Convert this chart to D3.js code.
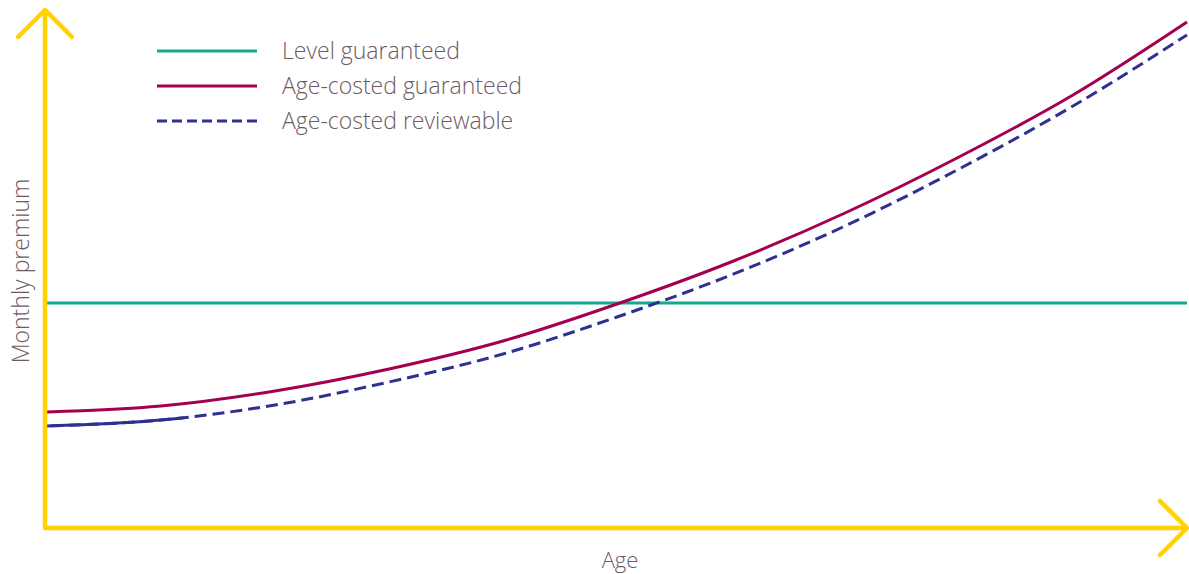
<!DOCTYPE html>
<meta charset="utf-8">
<script src="https://d3js.org/d3.v7.min.js"></script>
<style>
  body { margin: 0; background: #fff; }
  text { font-family: "Open Sans", sans-serif; fill: #6e5a62; }
</style>
<div id="my_dataviz"></div>
<script>
    // data (premium read in arbitrary units off the picture)
    var ages = [0, 10, 20, 30, 40, 50, 60, 70, 80, 90, 100];
    var levelGuaranteed = [225, 225, 225, 225, 225, 225, 225, 225, 225, 225, 225];
    var ageCostedGuaranteed = [116, 122, 137, 159, 187, 224, 266, 315, 371, 433, 506];
    var ageCostedReviewable = [102, 108, 123, 146, 174, 211, 253, 302, 359, 422, 493];
    var seriesNames = ["Level guaranteed", "Age-costed guaranteed", "Age-costed reviewable"];
    var seriesColors = ["#14a98c", "#a3004f", "#2e3192"];
    var solidUntilAge = 12; // reviewable line is drawn solid at the start

    var width = 1189, height = 574;
    var margin = {left: 45, bottom: 46, top: 10, right: 2};

    var svg = d3.select("#my_dataviz")
      .append("svg")
        .attr("width", width)
        .attr("height", height);

    var x = d3.scaleLinear()
        .domain([0, 100])
        .range([margin.left + 2, width - margin.right]);

    var y = d3.scaleLinear()
        .domain([0, 518])
        .range([height - margin.bottom, margin.top]);

    var line = d3.line()
        .x(function(d, i) { return x(ages[i]); })
        .y(function(d) { return y(d); })
        .curve(d3.curveMonotoneX);

    // level line
    svg.append("path")
        .attr("d", line(levelGuaranteed))
        .attr("fill", "none")
        .attr("stroke", seriesColors[0])
        .attr("stroke-width", 3);

    // reviewable: dashed, with solid start
    svg.append("clipPath").attr("id", "solidPart")
      .append("rect")
        .attr("x", 0).attr("y", 0)
        .attr("width", x(solidUntilAge)).attr("height", height);

    svg.append("path")
        .attr("d", line(ageCostedReviewable))
        .attr("fill", "none")
        .attr("stroke", seriesColors[2])
        .attr("stroke-width", 3)
        .attr("stroke-dasharray", "12,6")
        .attr("stroke-dashoffset", -4);

    svg.append("path")
        .attr("d", line(ageCostedReviewable))
        .attr("clip-path", "url(#solidPart)")
        .attr("fill", "none")
        .attr("stroke", seriesColors[2])
        .attr("stroke-width", 3);

    // age-costed guaranteed
    svg.append("path")
        .attr("d", line(ageCostedGuaranteed))
        .attr("fill", "none")
        .attr("stroke", seriesColors[1])
        .attr("stroke-width", 3);

    // axes with arrowheads
    var yellow = "#ffd200";
    var x0 = margin.left, y0 = height - margin.bottom;
    var xEnd = width - margin.right, yEnd = margin.top;
    var head = 27;
    var axes = svg.append("g")
        .attr("fill", "none")
        .attr("stroke", yellow)
        .attr("stroke-width", 4.5)
        .attr("stroke-linecap", "round")
        .attr("stroke-linejoin", "round");

    axes.append("path")
        .attr("stroke-linecap", "butt")
        .attr("d", "M" + x0 + "," + (yEnd + 1) + "V" + y0 + "H" + (xEnd - 1));
    axes.append("path")
        .attr("d", "M" + (x0 - head) + "," + (yEnd + head) + "L" + x0 + "," + yEnd + "L" + (x0 + head) + "," + (yEnd + head));
    axes.append("path")
        .attr("d", "M" + (xEnd - head) + "," + (y0 - head) + "L" + xEnd + "," + y0 + "L" + (xEnd - head) + "," + (y0 + head));

    // axis titles
    svg.append("text")
        .attr("x", 620)
        .attr("y", 568)
        .attr("text-anchor", "middle")
        .style("font-size", "22px")
        .style("font-weight", 300)
        .text("Age");

    svg.append("text")
        .attr("transform", "translate(29,271)rotate(-90)")
        .attr("text-anchor", "middle")
        .style("font-size", "23px")
        .style("font-weight", 300)
        .text("Monthly premium");

    // legend
    var legend = svg.append("g").attr("transform", "translate(157,51)");
    seriesNames.forEach(function(name, i) {
      var row = legend.append("g").attr("transform", "translate(0," + (i * 35) + ")");
      row.append("line")
          .attr("x1", 0).attr("x2", 100)
          .attr("stroke", seriesColors[i])
          .attr("stroke-width", 3)
          .attr("stroke-dasharray", i == 2 ? "10,5" : null);
      row.append("text")
          .attr("x", 125)
          .attr("y", 8)
          .style("font-size", "23px")
          .style("font-weight", 300)
          .text(name);
    });
</script>
